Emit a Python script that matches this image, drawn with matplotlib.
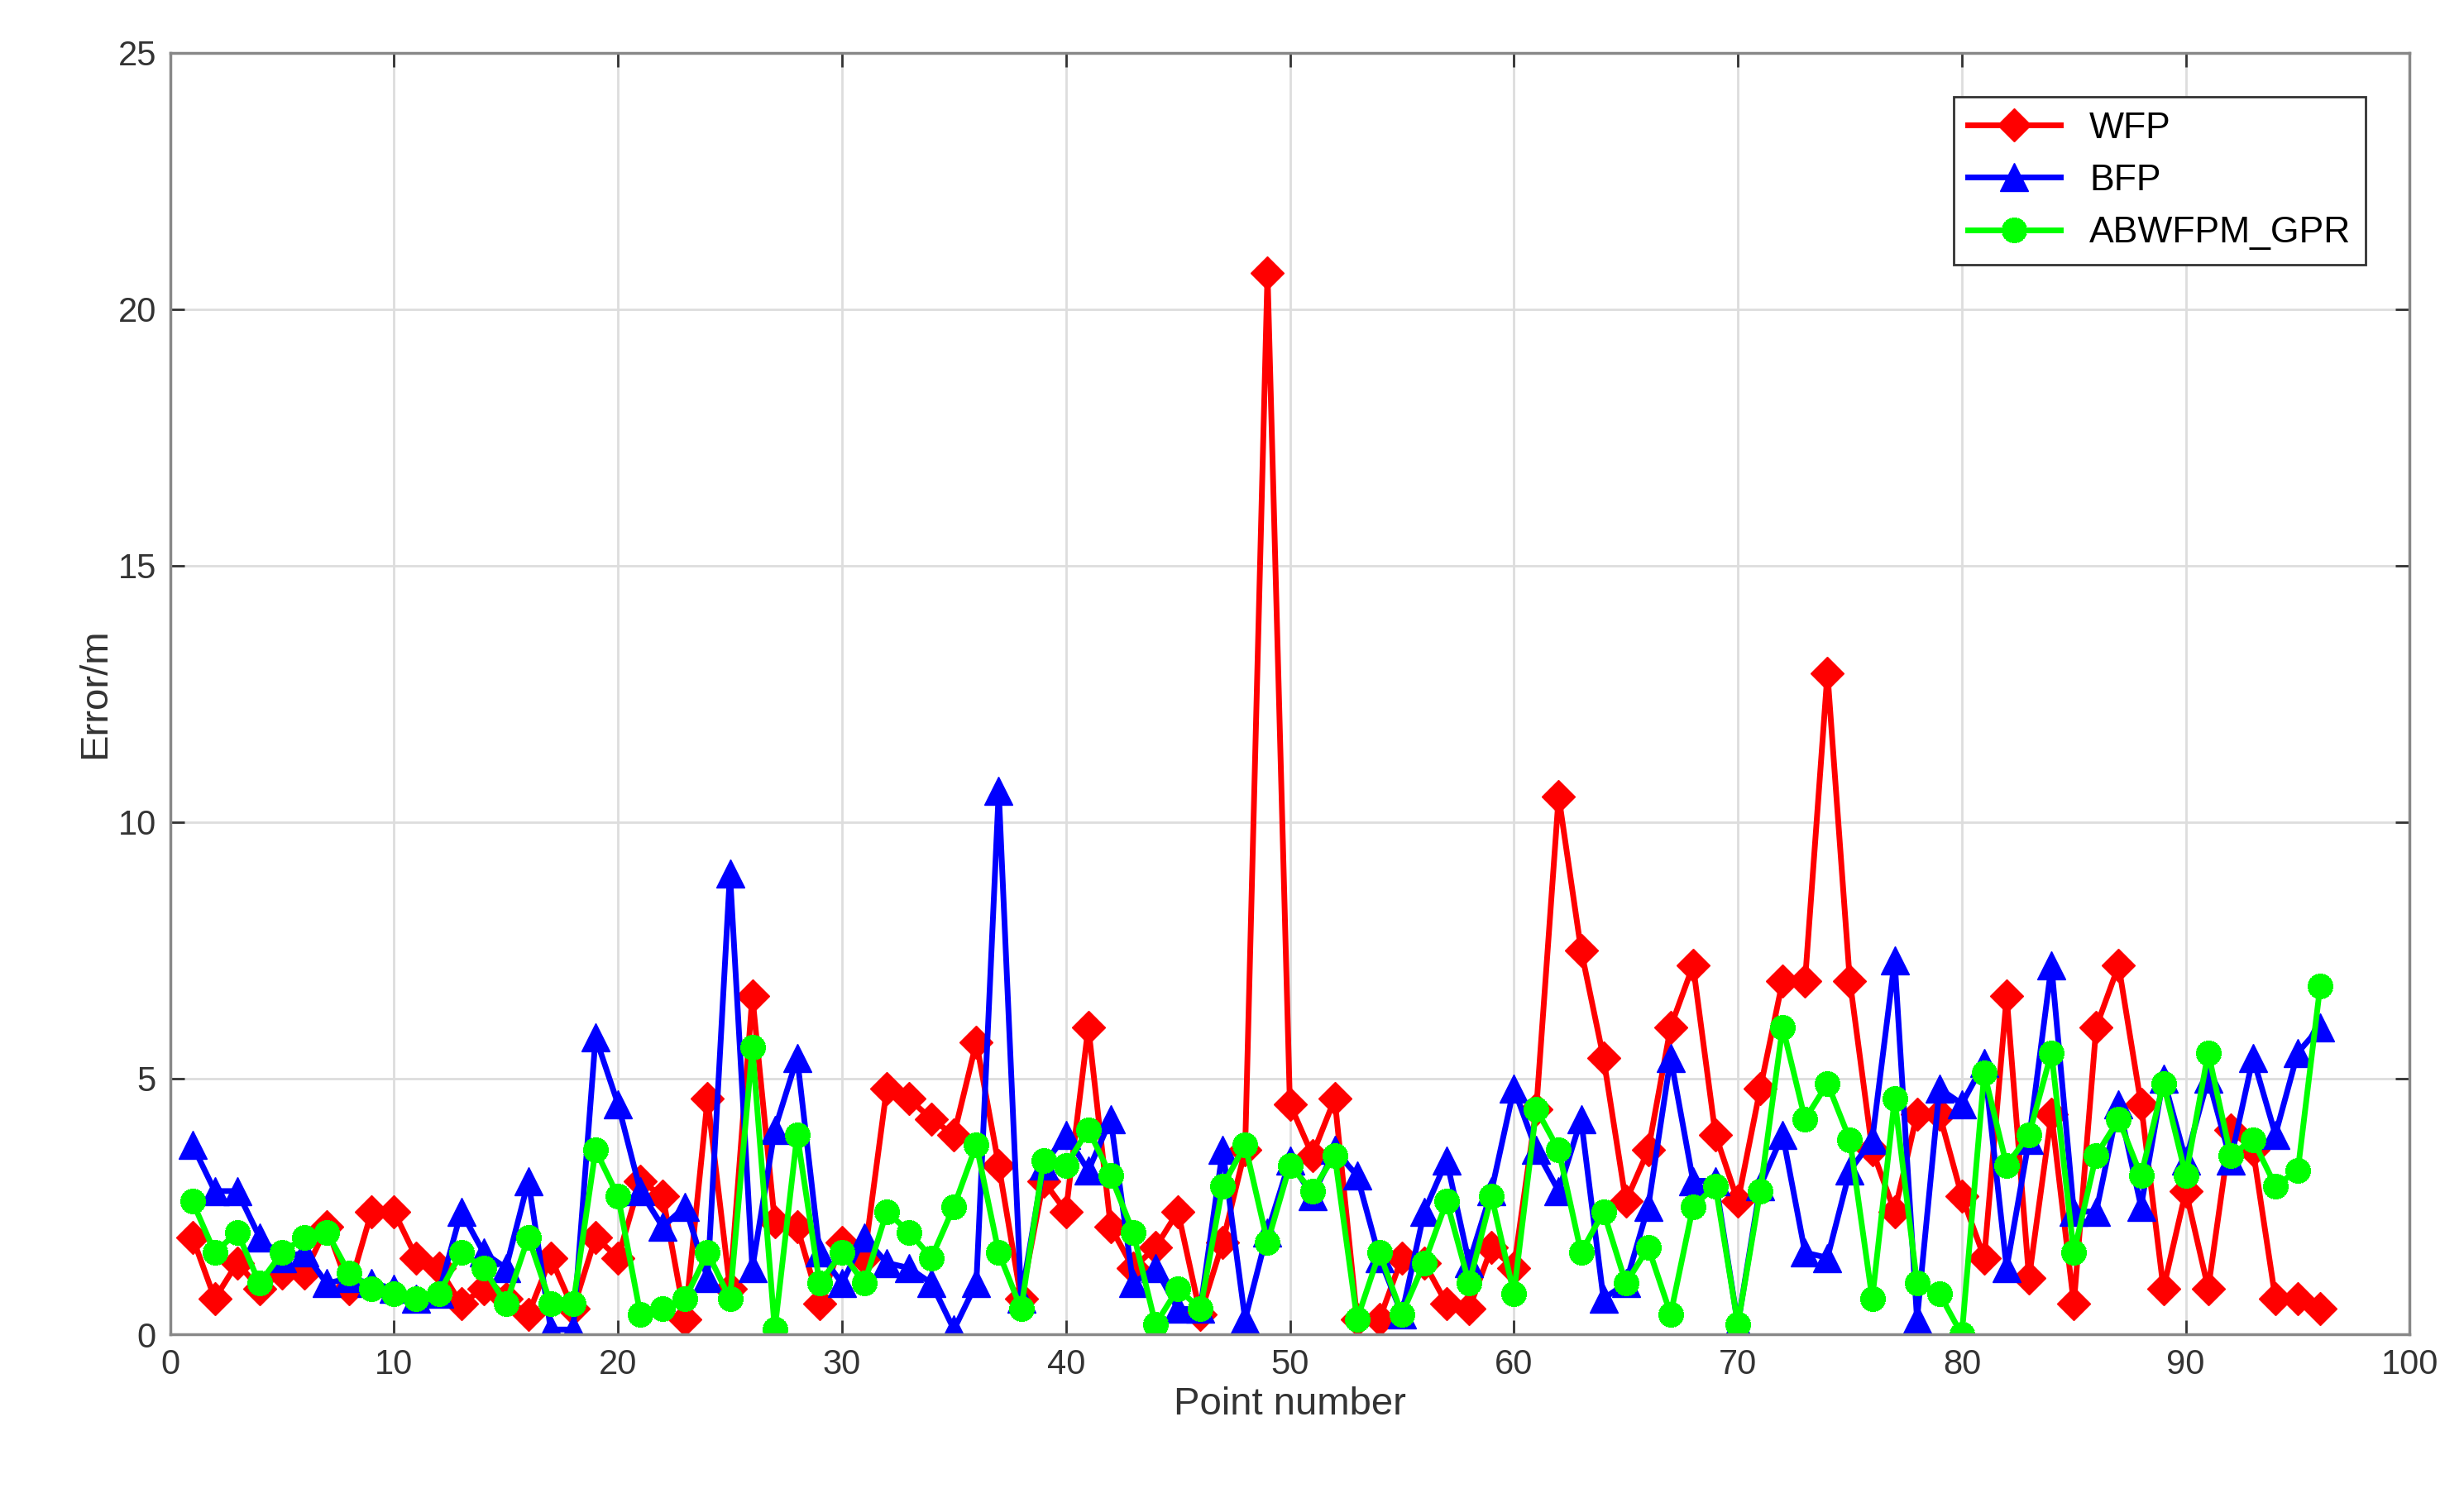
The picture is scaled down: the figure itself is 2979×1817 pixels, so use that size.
import numpy as np
import matplotlib
matplotlib.use("Agg")
import matplotlib.pyplot as plt

points = np.arange(1, 97)
wfp = [1.9,0.7,1.4,0.9,1.2,1.2,2.1,0.9,2.4,2.4,1.5,1.3,0.6,0.9,0.7,0.4,1.5,0.5,1.9,1.5,
       3.0,2.7,0.3,4.6,0.9,6.6,2.2,2.1,0.6,1.8,1.5,4.8,4.6,4.2,3.9,5.7,3.3,0.7,3.0,2.4,
       6.0,2.1,1.3,1.7,2.4,0.4,1.8,3.6,20.7,4.5,3.5,4.6,0.3,0.3,1.5,1.4,0.6,0.5,1.7,1.3,
       4.4,10.5,7.5,5.4,2.6,3.6,6.0,7.2,3.9,2.6,4.8,6.9,6.9,12.9,6.9,3.6,2.4,4.3,4.3,2.7,
       1.5,6.6,1.1,4.3,0.6,6.0,7.2,4.5,0.9,2.8,0.9,4.0,3.6,0.7,0.7,0.5]
bfp = [3.7,2.8,2.8,1.9,1.5,1.6,1.0,1.1,1.0,0.9,0.7,0.8,2.4,1.6,1.3,3.0,0.1,0.1,5.8,4.5,
       2.8,2.1,2.5,1.1,9.0,1.3,4.0,5.4,1.6,1.0,1.9,1.4,1.3,1.0,0.1,1.0,10.6,0.7,3.3,3.9,
       3.2,4.2,1.0,1.3,0.5,0.5,3.6,0.3,2.0,3.4,2.7,3.6,3.1,1.5,0.4,2.4,3.4,1.4,2.8,4.8,
       3.6,2.8,4.2,0.7,1.0,2.5,5.4,3.0,3.0,0.2,2.9,3.9,1.6,1.5,3.2,3.8,7.3,0.3,4.8,4.5,
       5.3,1.3,3.8,7.2,2.4,2.4,4.5,2.5,5.0,3.4,5.0,3.4,5.4,3.9,5.5,6.0]
gpr = [2.6,1.6,2.0,1.0,1.6,1.9,2.0,1.2,0.9,0.8,0.7,0.8,1.6,1.3,0.6,1.9,0.6,0.6,3.6,2.7,
       0.4,0.5,0.7,1.6,0.7,5.6,0.1,3.9,1.0,1.6,1.0,2.4,2.0,1.5,2.5,3.7,1.6,0.5,3.4,3.3,
       4.0,3.1,2.0,0.2,0.9,0.5,2.9,3.7,1.8,3.3,2.8,3.5,0.3,1.6,0.4,1.4,2.6,1.0,2.7,0.8,
       4.4,3.6,1.6,2.4,1.0,1.7,0.4,2.5,2.9,0.2,2.8,6.0,4.2,4.9,3.8,0.7,4.6,1.0,0.8,0.0,
       5.1,3.3,3.9,5.5,1.6,3.5,4.2,3.1,4.9,3.1,5.5,3.5,3.8,2.9,3.2,6.8]

plt.rcParams["font.family"] = "Liberation Sans"
fig = plt.figure(figsize=(29.79, 18.17), dpi=100)
ax = fig.add_axes([0.069, 0.112, 0.909, 0.853])

ax.plot(points, wfp, color="red", marker="D", markersize=20, linewidth=5, label="WFP")
ax.plot(points, bfp, color="blue", marker="^", markersize=24, linewidth=5, label="BFP")
ax.plot(points, gpr, color="#00ff00", marker=(12, 2, 0), markersize=22, markeredgewidth=5,
        linewidth=5, label="ABWFPM_GPR")

ax.set_xlim(0, 100)
ax.set_ylim(0, 25)
ax.set_xticks(np.arange(0, 101, 10))
ax.set_yticks(np.arange(0, 26, 5))
ax.grid(True, color="#dddddd", linewidth=2)
ax.set_axisbelow(True)
for s in ax.spines.values():
    s.set_color("#888888")
    s.set_linewidth(2.5)
ax.tick_params(labelsize=30, direction="in", length=12, width=2, colors="#333333", pad=12)
ax.tick_params(top=True, right=True)
ax.set_xlabel("Point number", fontsize=34, color="#333333")
ax.set_ylabel("Error/m", fontsize=34, color="#333333")
leg = ax.legend(loc="upper right", fontsize=32, fancybox=False, edgecolor="#333333",
                framealpha=1, borderaxespad=1.2, handlelength=2.5)
leg.get_frame().set_linewidth(2)
fig.savefig("out.png", dpi=100)
